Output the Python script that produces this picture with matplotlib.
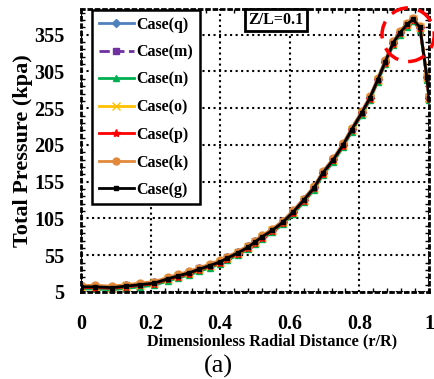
import matplotlib.pyplot as plt
from matplotlib.patches import Ellipse
from matplotlib.ticker import AutoMinorLocator

plt.rcParams["font.family"] = "Liberation Serif"
plt.rcParams["font.weight"] = "bold"

# r/R positions
r = [0.0, 0.04, 0.09, 0.13, 0.17, 0.21, 0.25, 0.28, 0.31, 0.34, 0.37, 0.40,
     0.42, 0.45, 0.48, 0.50, 0.52, 0.55, 0.58, 0.61, 0.64, 0.67, 0.695, 0.725,
     0.753, 0.778, 0.807, 0.83, 0.853, 0.874, 0.897, 0.917, 0.937, 0.954,
     0.974, 0.994, 1.0]

case_g = [12, 12, 11, 13, 15, 17, 23, 27, 31, 36, 41, 46,
          51, 58, 66, 73, 80, 89, 100, 114, 130, 147, 167, 185,
          205, 226, 249, 269, 294, 318, 344, 358, 369, 376,
          365, 297, 269]
case_q = [13, 13, 12, 14, 16, 18, 24, 28, 32, 37, 42, 47,
          52, 59, 67, 74, 81, 90, 101, 115, 131, 148, 168, 186,
          206, 227, 250, 270, 295, 319, 345, 359, 370, 377,
          366, 298, 270]
case_m = [13, 13, 12, 14, 16, 18, 24, 28, 32, 37, 42, 47,
          52, 59, 67, 74, 81, 90, 101, 115, 131, 148, 168, 186,
          206, 227, 250, 270, 295, 319, 345, 359, 370, 377,
          366, 298, 270]
case_n = [9, 9, 8, 10, 12, 14, 20, 24, 28, 33, 38, 43,
          48, 55, 63, 70, 77, 86, 97, 111, 127, 144, 164, 182,
          202, 223, 246, 266, 291, 315, 341, 355, 366, 373,
          362, 294, 266]
case_o = [12, 12, 11, 13, 15, 17, 23, 27, 31, 36, 41, 46,
          51, 58, 66, 73, 80, 89, 100, 114, 130, 147, 167, 185,
          205, 226, 249, 269, 294, 318, 344, 358, 369, 376,
          365, 297, 269]
case_p = [11, 11, 10, 12, 14, 16, 22, 26, 30, 35, 40, 45,
          50, 57, 65, 72, 79, 88, 99, 113, 129, 146, 166, 184,
          204, 225, 248, 268, 293, 317, 343, 357, 368, 375,
          364, 296, 268]
case_k = [14, 14, 13, 15, 17, 19, 25, 29, 33, 38, 43, 48,
          53, 60, 68, 75, 82, 91, 102, 116, 132, 149, 169, 187,
          207, 228, 251, 271, 296, 320, 346, 360, 371, 378,
          367, 299, 271]

y_ticks = [5, 55, 105, 155, 205, 255, 305, 355]
x_ticks = [0, 0.2, 0.4, 0.6, 0.8, 1.0]
x_labels = ["0", "0.2", "0.4", "0.6", "0.8", "1"]

fig = plt.figure(figsize=(4.34, 3.79), dpi=100)
ax = fig.add_axes([0.1866, 0.2296, 0.8019, 0.7467])

series = [
    ("Case(q)", case_q, "#4f81bd", "D", "-", 4),
    ("Case(m)", case_m, "#7030a0", "s", "--", 5),
    ("Case(n)", case_n, "#00b050", "^", "-", 5),
    ("Case(o)", case_o, "#ffc000", "x", "-", 6),
    ("Case(p)", case_p, "#ff0000", "*", "-", 6),
    ("Case(k)", case_k, "#e2893b", "o", "-", 5),
    ("Case(g)", case_g, "#000000", "s", "-", 3.5),
]
for name, ys, c, m, ls, ms in series:
    ax.plot(r, ys, ls, color=c, marker=m, markersize=ms, lw=2, label=name)

ax.set_xlim(0, 1)
ax.set_ylim(5, 390)
ax.set_yticks(y_ticks)
ax.set_xticks(x_ticks)
ax.set_xticklabels(x_labels)
ax.xaxis.set_minor_locator(AutoMinorLocator(5))
ax.yaxis.set_minor_locator(AutoMinorLocator(5))
ax.tick_params(which="both", direction="in", top=True, right=True)
ax.tick_params(which="major", length=0, labelsize=14.5)
ax.tick_params(axis="x", which="major", pad=16)
ax.tick_params(axis="y", which="major", pad=12)
ax.tick_params(which="minor", length=3, width=1)
for lab in ax.get_xticklabels() + ax.get_yticklabels():
    lab.set_fontweight("bold")

ax.grid(True, which="major", color="black", linestyle=":", lw=1.5)
for sp in ax.spines.values():
    sp.set_linestyle(":")
    sp.set_linewidth(2)

ax.add_patch(Ellipse((0.94, 355), 0.15, 73, fill=False, edgecolor="red",
                     lw=2.5, linestyle=(0, (5, 3)), zorder=5, clip_on=False))

ax.text(0.56, 0.961, "Z/L=0.1", transform=ax.transAxes, fontsize=11.5,
        fontweight="bold", ha="center", va="center",
        bbox=dict(boxstyle="square,pad=0.2", fc="white", ec="black", lw=2))

leg = ax.legend(loc="upper left", bbox_to_anchor=(0.033, 0.995),
                prop={"weight": "bold", "size": 11.5}, fancybox=False,
                framealpha=1, edgecolor="black", handlelength=2.2,
                handletextpad=0.15, labelspacing=0.72, borderpad=0.4,
                borderaxespad=0)
leg.get_frame().set_linewidth(1.8)

ax.set_xlabel("Dimensionless Radial Distance (r/R)", fontsize=11.7,
              fontweight="bold")
ax.xaxis.set_label_coords(0.549, -0.148)
ax.set_ylabel("Total Pressure (kpa)", fontsize=16, fontweight="bold",
              labelpad=1)
fig.text(0.503, 0.032, "(a)", fontsize=19, fontweight="normal",
         ha="center", va="center")

fig.savefig("out.png", dpi=100)
